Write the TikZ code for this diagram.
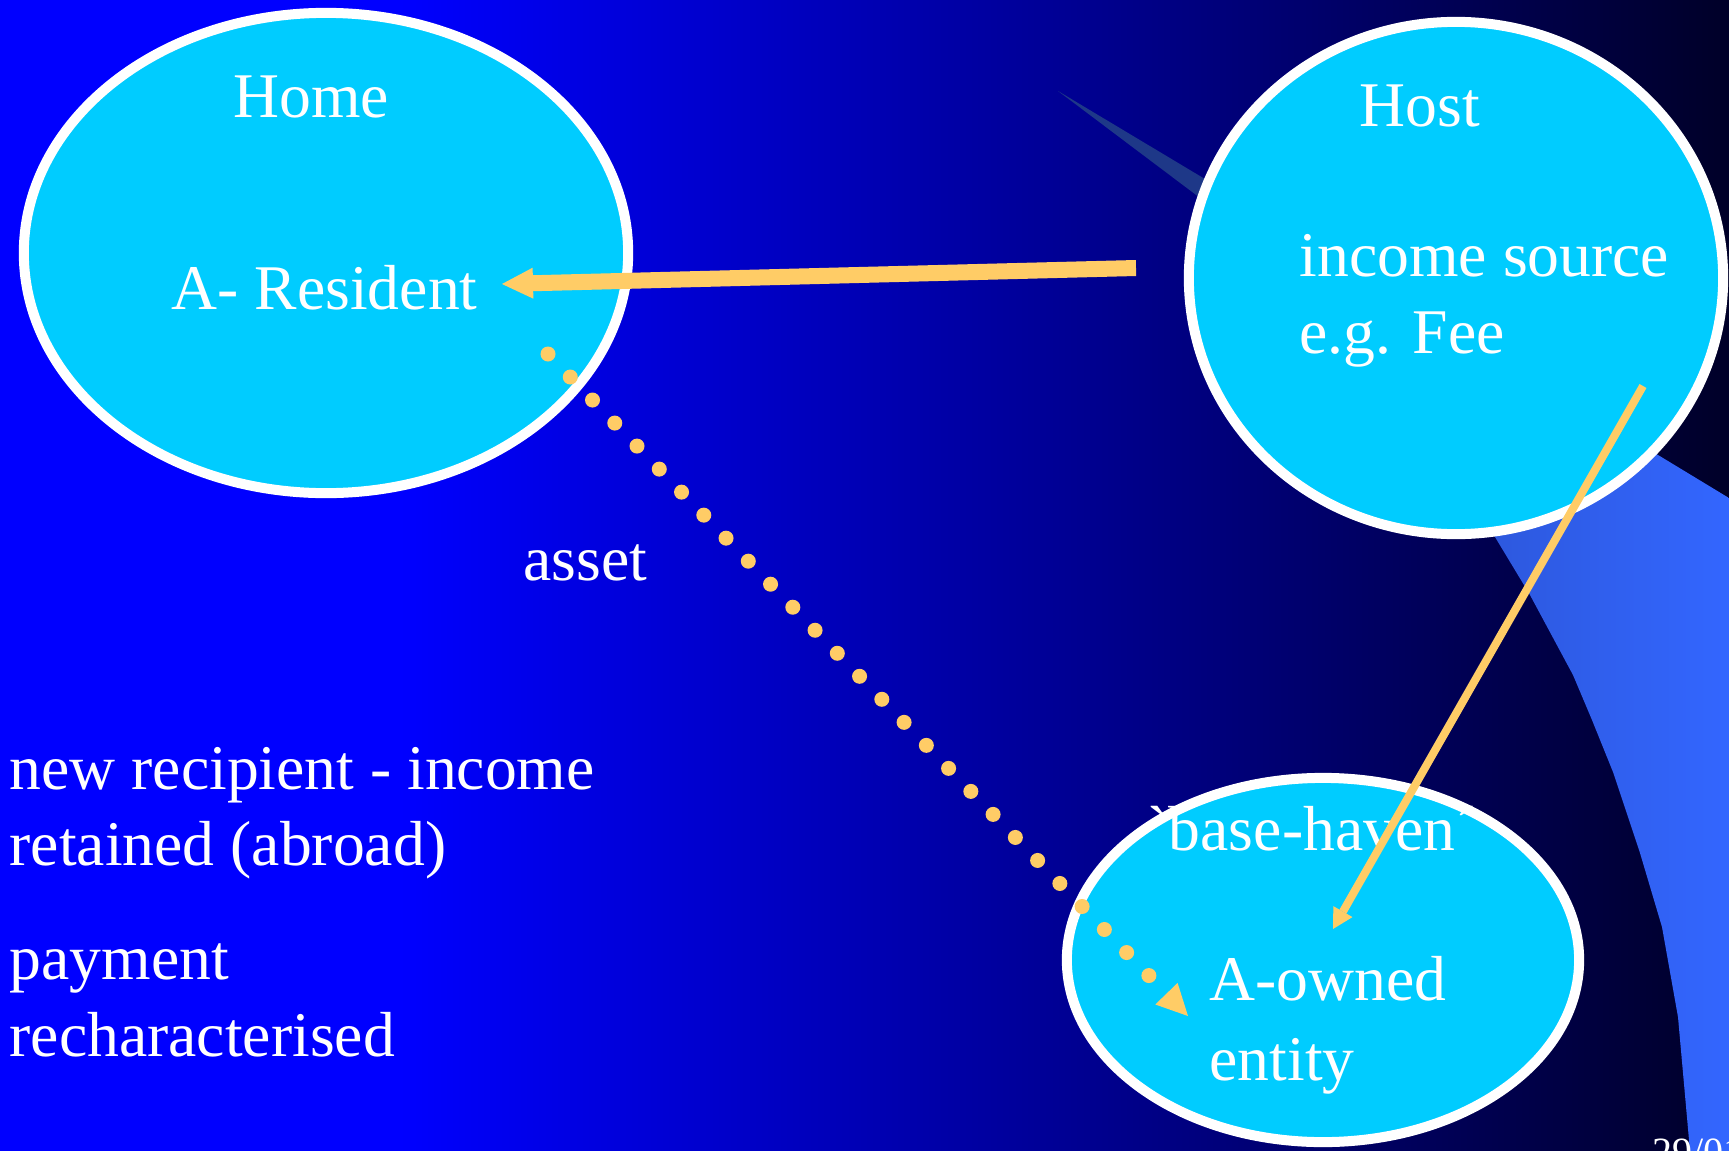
\documentclass[tikz,border=0pt]{standalone}
\usepackage{fontspec}
\setmainfont{Liberation Serif}
% a face without TeX quote ligatures, for the plain ` and ´ marks
\newfontfamily\plainserif{Liberation Serif}[Ligatures=TeXOff]
\usetikzlibrary{arrows.meta,shapes.geometric}

\definecolor{bgleft}{RGB}{0,0,255}
\definecolor{bgright}{RGB}{0,0,40}
\definecolor{bubblefill}{RGB}{0,204,255}
\definecolor{arrowgold}{RGB}{255,204,102}
\definecolor{swooshdark}{RGB}{44,86,216}
\definecolor{swooshlight}{RGB}{51,102,255}
\definecolor{streak}{RGB}{30,56,136}

\tikzset{
  bubble/.style={ellipse, draw=white, line width=0.1cm, fill=bubblefill, inner sep=0pt},
  lbl/.style={text=white, inner sep=0pt, font=\fontsize{18.1pt}{21.7pt}\selectfont},
  feearrow/.style={draw=arrowgold, line width=0.16cm,
    -{Triangle[length=0.31cm,width=0.31cm,line width=0pt]}},
  baseflow/.style={draw=arrowgold, line width=0.08cm,
    -{Triangle[length=0.2cm,width=0.22cm,line width=0pt]}},
  assetflow/.style={draw=arrowgold, line width=0.15cm, line cap=round,
    dash pattern=on 0pt off 0.32cm,
    -{Triangle[length=0.31cm,width=0.31cm,line width=0pt]}},
}

\begin{document}
\begin{tikzpicture}[x=0.01cm,y=-0.01cm]
\useasboundingbox (0,0) rectangle (1729,1151);
\clip (0,0) rectangle (1729,1151);

% slide background: solid blue on the left, fading to near black
\fill[bgleft] (0,0) rectangle (401,1151);
\shade[left color=bgleft,right color=bgright] (400,0) rectangle (1729,1151);

% decorative swoosh behind the host circle
\fill[streak] (1058,91) -- (1240,200) -- (1240,228) -- cycle;
\shade[left color=swooshdark,right color=swooshlight]
  (1600,420) -- (1663,458) -- (1729,498) -- (1729,1151) -- (1690,1151)
  -- (1678,1017) -- (1662,927) -- (1640,853) -- (1613,772) -- (1592,720)
  -- (1573,675) -- (1530,595) -- (1495,537) -- (1450,450) -- cycle;

% the three jurisdictions
\node[bubble, minimum width=6.04cm, minimum height=4.80cm] (home) at (326,253) {};
\node[bubble, minimum width=5.34cm, minimum height=5.12cm] (host) at (1456,278) {};
\node[bubble, minimum width=5.12cm, minimum height=3.64cm] (haven) at (1323,960) {};

% labels inside the circles
\node[lbl, anchor=base] (homelbl) at (311,117) {Home};
\node[lbl, anchor=base west] (resident) at (171,309) {A- Resident};
\node[lbl, anchor=base] (hostlbl) at (1420,126) {Host};
\node[lbl, anchor=base west] (income) at (1299,276) {income source};
\node[lbl, anchor=base west] (fee) at (1299,353) {e.g. Fee};
\node[lbl, anchor=base west] (havenlbl) at (1147,850) {\plainserif `base-haven´};
\node[lbl, anchor=base west] (owned) at (1209,1000) {A-owned};
\node[lbl, anchor=base west] (entity) at (1209,1080) {entity};

% free-standing labels
\node[lbl, anchor=base west] (asset) at (523,580) {asset};
\node[lbl, anchor=base west] (recip) at (9,789) {new recipient - income};
\node[lbl, anchor=base west] (retain) at (9,865) {retained (abroad)};
\node[lbl, anchor=base west] (pay) at (9,979) {payment};
\node[lbl, anchor=base west] (rechar) at (9,1056) {recharacterised};
\node[text=white, inner sep=0pt, anchor=base west,
      font=\fontsize{11.4pt}{13pt}\selectfont] (date) at (1652,1165) {29/01};

% flow end points
\coordinate (feeOut) at (1136,268);
\coordinate (resIn) at (502,284);
\coordinate (sourceOut) at (1643,386);
\coordinate (entityIn) at (1333,929);
\coordinate (assetOut) at (548,354);
\coordinate (assetIn) at (1188,1016);

% flows
\draw[feearrow] (feeOut) -- (resIn);
\draw[assetflow] (assetOut) -- (assetIn);
\draw[baseflow] (sourceOut) -- (entityIn);
\end{tikzpicture}
\end{document}
